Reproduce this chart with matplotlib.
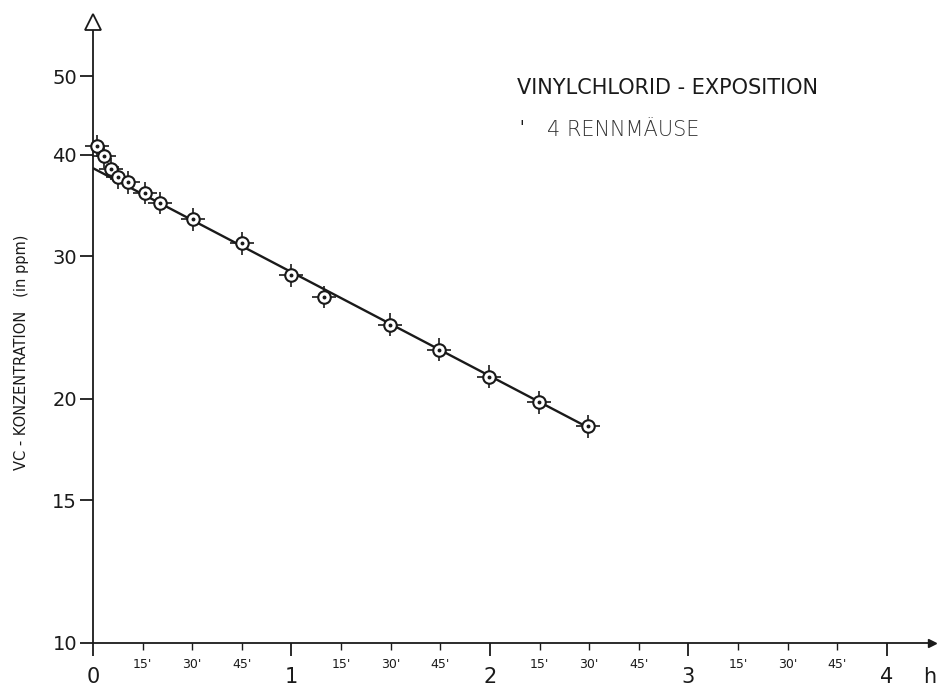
import matplotlib
matplotlib.use("Agg")
import matplotlib.pyplot as plt
from matplotlib.ticker import FixedLocator, NullLocator, FixedFormatter

# ---- data ----
hours = [0.022, 0.054, 0.089, 0.124, 0.175, 0.260, 0.339, 0.502, 0.752,
         0.997, 1.165, 1.496, 1.743, 1.996, 2.248, 2.495]
ppm = [41.0, 39.8, 38.4, 37.5, 37.0, 35.9, 34.9, 33.3, 31.1,
       28.4, 26.7, 24.7, 23.0, 21.3, 19.8, 18.5]
ppm_err = [1.3, 1.3, 1.2, 1.2, 1.2, 1.1, 1.1, 1.05, 1.0,
           0.9, 0.85, 0.8, 0.75, 0.7, 0.65, 0.6]
hours_err = 0.06

fit_hours = [0.0, 2.52]
fit_ppm = [38.5, 18.3]

y_ticks = [10, 15, 20, 30, 40, 50]
y_labels = ["10", "15", "20", "30", "40", "50"]
x_major = [0, 1, 2, 3, 4]
x_major_labels = ["0", "1", "2", "3", "4"]
x_minor = [0.25, 0.5, 0.75, 1.25, 1.5, 1.75, 2.25, 2.5, 2.75,
           3.25, 3.5, 3.75]
x_minor_labels = ["15'", "30'", "45'"] * 4

title_text = "VINYLCHLORID - EXPOSITION"
subtitle_text = "4 RENNMÄUSE"
ylabel_text = "VC - KONZENTRATION   (in ppm)"

W, H = 938, 686
ink = "#1a1a1a"
fig = plt.figure(figsize=(W / 100, H / 100), dpi=100)
ax = fig.add_axes([93 / W, (H - 643) / H, (932 - 93) / W, (643 - 22) / H])

ax.set_yscale("log")
ax.set_xlim(0, 4.227)
ax.set_ylim(10, 58.3)

# regression line
ax.plot(fit_hours, fit_ppm, color=ink, lw=1.7, zorder=2, solid_capstyle="butt")

# error crosses
ax.errorbar(hours, ppm, xerr=hours_err, yerr=ppm_err, fmt="none",
            ecolor=ink, elinewidth=1.2, capsize=0, zorder=3, clip_on=False)
# open circles with centre dots
ax.plot(hours, ppm, "o", ms=9, mfc="white", mec=ink, mew=1.5, zorder=4,
        clip_on=False)
ax.plot(hours, ppm, "o", ms=1.8, color=ink, zorder=5, clip_on=False)

# spines
for s in ("top", "right"):
    ax.spines[s].set_visible(False)
for s in ("left", "bottom"):
    ax.spines[s].set_color(ink)
    ax.spines[s].set_linewidth(1.3)

# axis arrows
ax.plot([0], [1], marker="^", ms=11, mfc="white", mec=ink, mew=1.3,
        transform=ax.transAxes, clip_on=False, zorder=6)
ax.plot([1], [0], marker=">", ms=6, color=ink,
        transform=ax.transAxes, clip_on=False, zorder=6)

# y ticks
ax.yaxis.set_major_locator(FixedLocator(y_ticks))
ax.yaxis.set_major_formatter(FixedFormatter(y_labels))
ax.yaxis.set_minor_locator(NullLocator())
ax.tick_params(axis="y", which="major", length=9.5, width=1.3, pad=2,
               labelsize=14, colors=ink)

# x ticks
ax.xaxis.set_major_locator(FixedLocator(x_major))
ax.xaxis.set_major_formatter(FixedFormatter(x_major_labels))
ax.xaxis.set_minor_locator(FixedLocator(x_minor))
ax.xaxis.set_minor_formatter(FixedFormatter(x_minor_labels))
ax.tick_params(axis="x", which="major", length=9, width=1.3, pad=8,
               labelsize=15, colors=ink)
ax.tick_params(axis="x", which="minor", length=5, width=1.0, pad=6,
               labelsize=9, colors=ink)

# "h" unit at the end of x axis
fig.text(936 / W, 1 - 677 / H, "h", fontsize=15, color=ink,
         ha="right", va="center")

# annotations
fig.text(517 / W, 1 - 88 / H, title_text, fontsize=15, color=ink,
         ha="left", va="center")
fig.text(519 / W, 1 - 128 / H, "'", fontsize=12, color=ink,
         ha="left", va="center")
fig.text(547 / W, 1 - 130 / H, subtitle_text, fontsize=15, color="#333333",
         ha="left", va="center", fontweight="light")

# y label
fig.text(22 / W, 1 - 352 / H, ylabel_text, fontsize=10.5, color=ink,
         rotation=90, ha="center", va="center")

fig.savefig("out.png", dpi=100, facecolor="white")
